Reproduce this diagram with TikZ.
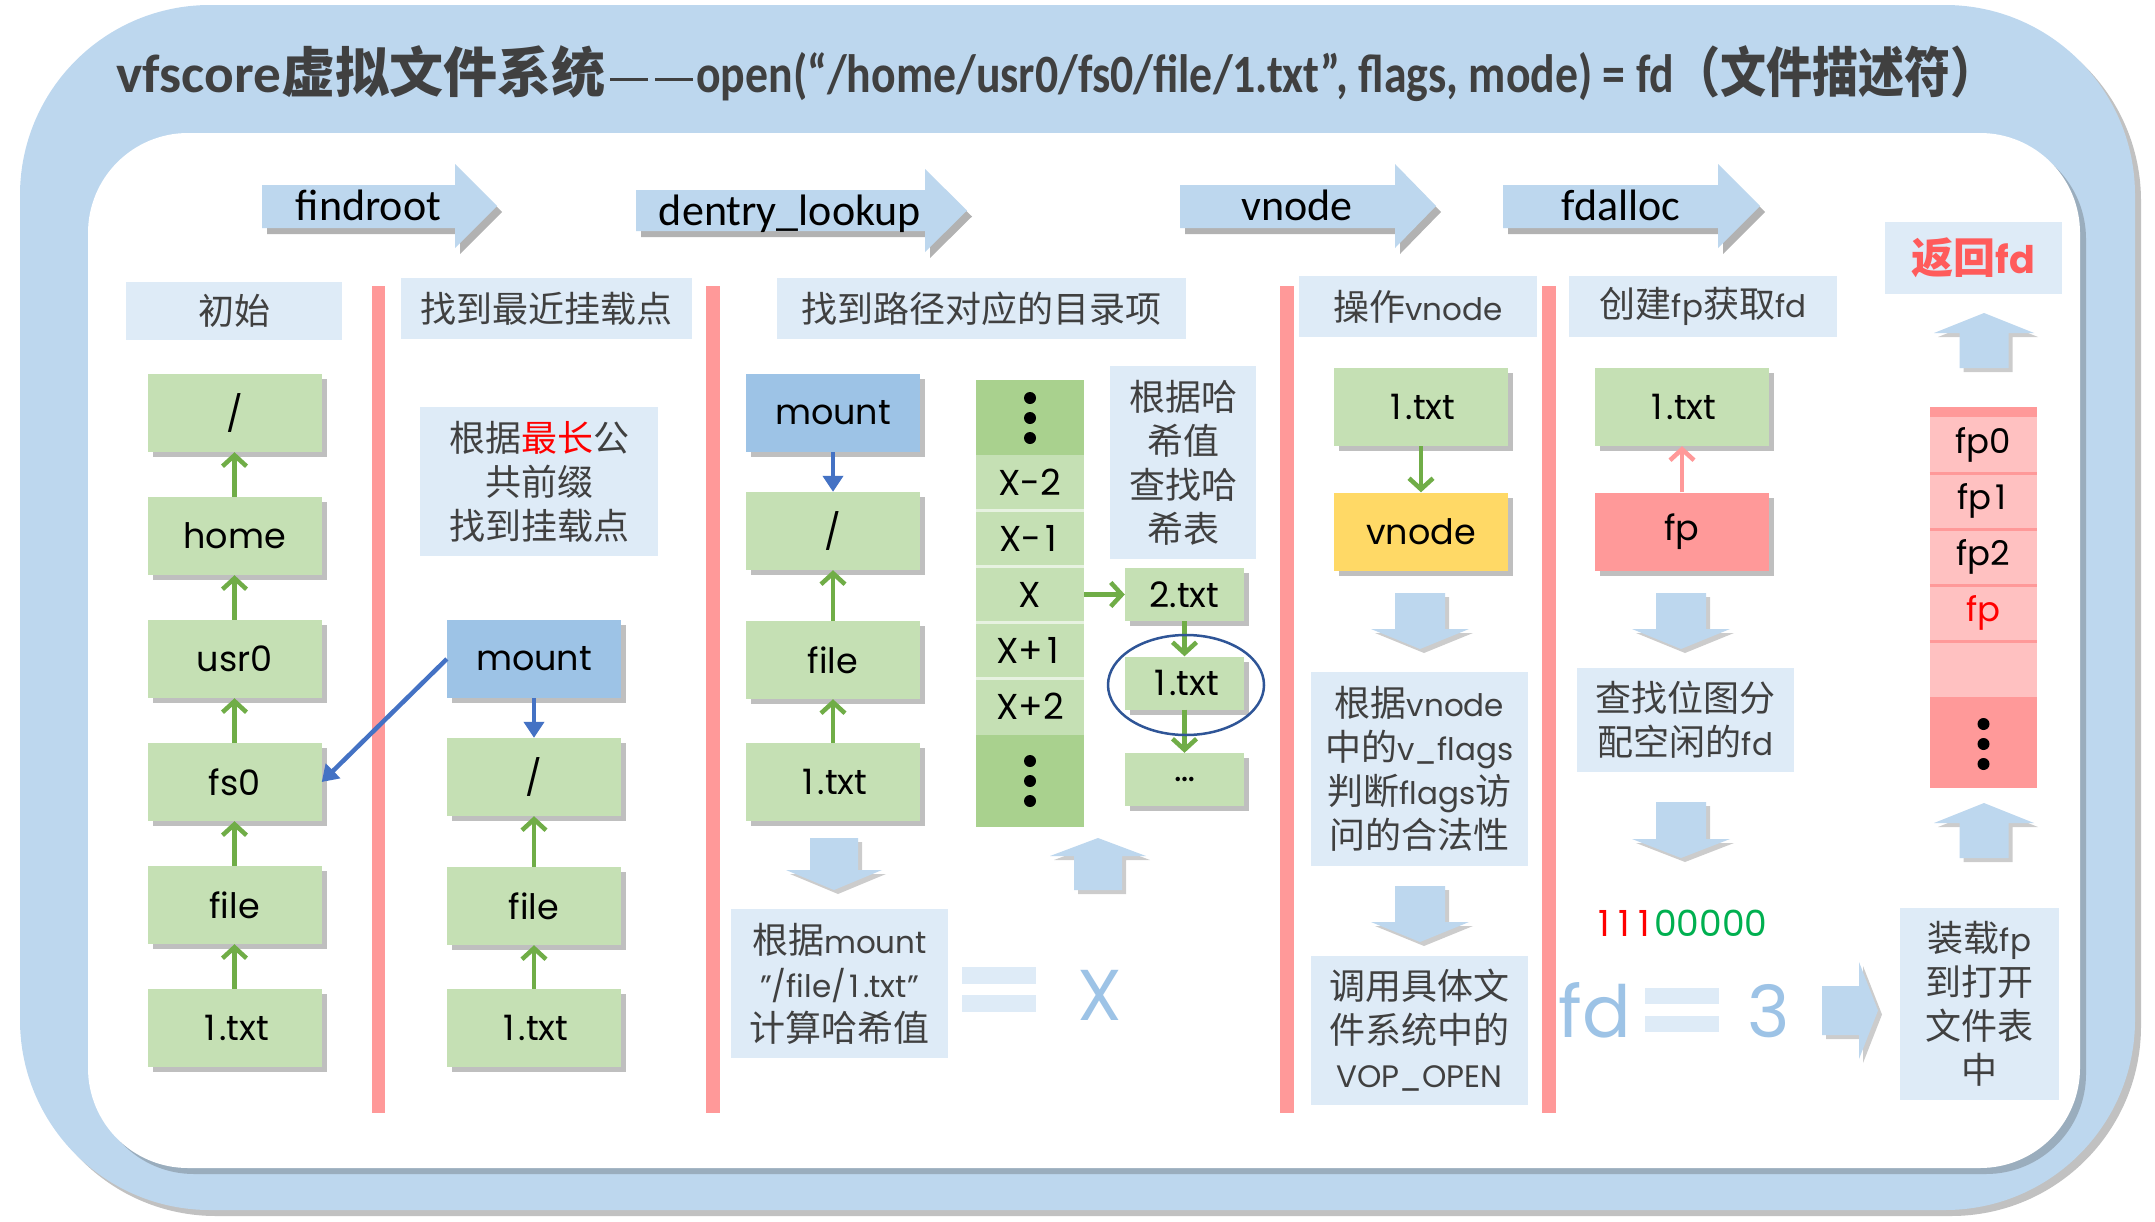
\documentclass[tikz,border=0pt]{standalone}
\usepackage{fontspec}
\usepackage{graphicx}
\setmainfont{Poppins}
\newfontfamily\cjkf{Noto Sans CJK SC}
\newfontfamily\calfont{Carlito}
\usetikzlibrary{arrows.meta,shadows}
\definecolor{outerblue}{HTML}{BDD7EE}
\definecolor{hdrblue}{HTML}{DEEBF7}
\definecolor{gbox}{HTML}{C5E0B4}
\definecolor{gdark}{HTML}{A9D18E}
\definecolor{mblue}{HTML}{9DC3E6}
\definecolor{vyellow}{HTML}{FFD966}
\definecolor{fpred}{HTML}{FF9999}
\definecolor{fplight}{HTML}{FFC1C1}
\definecolor{garrow}{HTML}{70AD47}
\definecolor{barrow}{HTML}{4472C4}
\definecolor{ellblue}{HTML}{2F5597}
\definecolor{txtgray}{HTML}{404040}
\definecolor{bitgreen}{HTML}{00B050}
\definecolor{titlered}{HTML}{FF5B5B}
\newcommand\latp[1]{{\rmfamily\fontsize{31}{44}\selectfont #1}}
\newcommand\one{\makebox[0.55em]{1}}
\newcommand\bdown[6]{\fill[blk] (#1-#3,#2) -- (#1+#3,#2) -- (#1+#3,#4) -- (#1+#5,#4) -- (#1,#6) -- (#1-#5,#4) -- (#1-#3,#4) -- cycle;}
\newcommand\bup[6]{\fill[blk] (#1,#2) -- (#1+#4,#3) -- (#1+#5,#3) -- (#1+#5,#6) -- (#1-#5,#6) -- (#1-#5,#3) -- (#1-#4,#3) -- cycle;}
\newcommand\steparrow[7]{\fill[steparr] (#1,#3) -- (#2,#3) -- (#2,#5) -- (#7,{(#5+#6)/2}) -- (#2,#6) -- (#2,#4) -- (#1,#4) -- cycle;}
\tikzset{
 shd/.style={drop shadow={shadow xshift=5pt,shadow yshift=-5pt,opacity=0.25,fill=black}},
 nbox/.style={inner sep=0pt, minimum width=174pt, minimum height=78pt, shd, font=\rmfamily\fontsize{35}{40}\selectfont, text=black},
 gnode/.style={nbox, fill=gbox},
 bnode/.style={nbox, fill=mblue},
 ynode/.style={nbox, fill=vyellow},
 rnode/.style={nbox, fill=fpred},
 snode/.style={gnode, minimum width=119pt, minimum height=53pt},
 hdr/.style={fill=hdrblue, inner sep=0pt, text=txtgray, align=center, font=\cjkf\fontsize{36}{44}\selectfont},
 sepbar/.style={fill=fpred},
 garr/.style={draw=garrow, line width=4.5pt, -{Straight Barb[length=11pt,width=24pt]}},
 parr/.style={garr, draw=fpred},
 barr/.style={draw=barrow, line width=4.5pt, -{Triangle[length=16pt,width=20pt]}},
 blk/.style={fill=outerblue, drop shadow={shadow xshift=4pt,shadow yshift=-4pt,opacity=0.2,fill=black}},
 steparr/.style={fill=outerblue, drop shadow={shadow xshift=5pt,shadow yshift=-6pt,opacity=0.3,fill=black}},
 steptxt/.style={font=\calfont\fontsize{44}{50}\selectfont, text=black, inner sep=0pt},
 hrow/.style={fill=gbox, minimum width=108pt, minimum height=56pt, inner sep=0pt, font=\rmfamily\fontsize{36}{40}\selectfont},
 hdark/.style={hrow, fill=gdark},
 srow/.style={fill=fplight, minimum width=107pt, minimum height=56pt, inner sep=0pt, font=\rmfamily\fontsize{34}{40}\selectfont},
 sdark/.style={srow, fill=fpred},
 rowsep/.style={draw=white, opacity=0.6, line width=3pt},
 srowsep/.style={draw=fpred, line width=3pt},
 ellring/.style={draw=ellblue, line width=2.5pt},
 eqbar/.style={fill=hdrblue},
 bigtxt/.style={font=\rmfamily\fontsize{72}{80}\selectfont, text=mblue, inner sep=0pt},
}
\begin{document}
\begin{tikzpicture}[x=1pt,y=-1pt]
\useasboundingbox (0,0) rectangle (2155,1221);
% frames
\fill[outerblue, rounded corners=190pt, drop shadow={shadow xshift=6pt,shadow yshift=-6pt,opacity=0.35,fill=black!70}] (20,5) rectangle (2135,1210);
\fill[white, rounded corners=100pt, drop shadow={shadow xshift=6pt,shadow yshift=-6pt,opacity=0.3,fill=black!70}] (88,133) rectangle (2080,1168);
% title
\node[anchor=base west, inner sep=0pt, text=txtgray] (title) at (116,92) {\fontsize{54}{60}\selectfont\bfseries\resizebox{165pt}{\height}{\calfont vfscore}{\cjkf 虚拟文件系统}\kern5pt\raisebox{11pt}{\rule{38pt}{3pt}}\kern7pt\raisebox{11pt}{\rule{38pt}{3pt}}\kern3pt\resizebox{978pt}{\height}{\calfont open(“/home/usr0/fs0/file/1.txt”, flags, mode) = fd}\resizebox{322pt}{\height}{\cjkf （文件描述符）}};
% step arrows
\steparrow{262}{455}{185}{228}{164}{248}{497}
\steparrow{636}{925}{190}{231}{169}{252}{967}
\steparrow{1180}{1395}{185}{228}{164}{248}{1436}
\steparrow{1503}{1718}{185}{228}{164}{248}{1760}
\node[steptxt, anchor=base] (s1) at (368.5,220) {findroot};
\node[steptxt, anchor=base] (s2) at (790,225) {dentry\_lookup};
\node[steptxt, anchor=base] (s3) at (1297,220) {vnode};
\node[steptxt, anchor=base] (s4) at (1621,220) {fdalloc};
% separators
\fill[sepbar] (372,286) rectangle (385,1113);
\fill[sepbar] (706,286) rectangle (720,1113);
\fill[sepbar] (1280,286) rectangle (1294,1113);
\fill[sepbar] (1542,286) rectangle (1556,1113);
% headers
\node[hdr, minimum width=216pt, minimum height=58pt] (h1) at (234,311) {初始};
\node[hdr, minimum width=291pt, minimum height=61pt] (h2) at (546.5,308.5) {找到最近挂载点};
\node[hdr, minimum width=409pt, minimum height=61pt] (h3) at (981.5,308.5) {找到路径对应的目录项};
\node[hdr, minimum width=238pt, minimum height=61pt] (h4) at (1418,306.5) {操作\latp{vnode}};
\node[hdr, minimum width=268pt, minimum height=61pt] (h5) at (1703,306.5) {创建\latp{fp}获取\latp{fd}};
\node[hdr, minimum width=177pt, minimum height=72pt, text=titlered] (h6) at (1973.5,258) {{\bfseries\fontsize{42}{48}\selectfont 返回}{\rmfamily\bfseries\fontsize{38}{48}\selectfont fd}};
% column 1
\node[gnode] (a1) at (234.5,413) {/};
\node[gnode] (a2) at (234.5,536) {home};
\node[gnode] (a3) at (234.5,659) {usr0};
\node[gnode] (a4) at (234.5,782) {fs0};
\node[gnode] (a5) at (234.5,905) {file};
\node[gnode] (a6) at (234.5,1028) {\one.txt};
\foreach \lo/\up in {a2/a1,a3/a2,a4/a3,a5/a4,a6/a5} \draw[garr] (\lo.north) -- (\up.south);
% column 2
\node[hdr, minimum width=238pt, minimum height=149pt] (t2) at (539,481.5) {根据\textcolor{red}{最长}公\\共前缀\\找到挂载点};
\node[bnode] (b1) at (534,659) {mount};
\node[gnode] (b2) at (534,777) {/};
\node[gnode] (b3) at (534,906) {file};
\node[gnode] (b4) at (534,1028) {\one.txt};
\draw[barr] (b1.south) -- (b2.north);
\draw[garr] (b3.north) -- (b2.south);
\draw[garr] (b4.north) -- (b3.south);
\draw[barr] (b1.west) -- (a4.east);
% column 3
\node[bnode] (c1) at (833,413) {mount};
\node[gnode] (c2) at (833,531) {/};
\node[gnode] (c3) at (833,660) {file};
\node[gnode] (c4) at (833,782) {\one.txt};
\draw[barr] (c1.south) -- (c2.north);
\draw[garr] (c3.north) -- (c2.south);
\draw[garr] (c4.north) -- (c3.south);
\node[hdark, minimum height=75pt] (ht) at (1030,417.5) {};
\node[hrow] (hm2) at (1030,482.5) {X-2};
\node[hrow] (hm1) at (1030,538.5) {X-\one};
\node[hrow] (hx) at (1030,594.5) {X};
\node[hrow] (hp1) at (1030,650.5) {X+\one};
\node[hrow] (hp2) at (1030,706.5) {X+2};
\node[hdark, minimum height=92pt] (hb) at (1030,780.5) {};
\foreach \r in {hm2,hm1,hx,hp1} \draw[rowsep] (\r.south west) -- (\r.south east);
\foreach \yy in {398,418,438} \fill (1030,\yy) circle (6pt);
\foreach \yy in {761,781,801} \fill (1030,\yy) circle (6pt);
\node[hdr, minimum width=146pt, minimum height=193pt] (t3a) at (1183,462.5) {根据哈\\希值\\查找哈\\希表};
\node[snode] (c5) at (1184.5,594.5) {2.txt};
\node[snode] (c6) at (1184.5,683) {\one.txt};
\node[snode] (c7) at (1184.5,779.5) {\fontsize{36}{40}\selectfont …};
\draw[garr] (hx.east) -- (c5.west);
\draw[garr] (c5.south) -- (c6.north);
\draw[garr] (c6.south) -- (c7.north);
\draw[ellring] (1186,685) ellipse [x radius=78pt, y radius=50pt];
\bdown{834}{838}{24}{870}{48}{890}
\bup{1098}{838}{856}{48}{24}{890}
\node[hdr, minimum width=217pt, minimum height=149pt] (t3b) at (839.5,983.5) {根据\latp{mount}\\\latp{”/file/\one.txt”}\\计算哈希值};
\fill[eqbar] (962,967) rectangle (1036,984);
\fill[eqbar] (962,995) rectangle (1036,1012);
\node[bigtxt] (xv) at (1100,995) {X};
% column 4
\node[gnode] (d1) at (1421,407) {\one.txt};
\node[ynode] (d2) at (1421,531.5) {vnode};
\draw[garr] (d1.south) -- (d2.north);
\bdown{1420}{593}{25}{629}{49}{649}
\node[hdr, minimum width=217pt, minimum height=194pt] (t4a) at (1419.5,769) {根据\latp{vnode}\\中的\latp{v\_flags}\\判断\latp{flags}访\\问的合法性};
\bdown{1420}{886}{25}{922}{49}{942}
\node[hdr, minimum width=217pt, minimum height=149pt] (t4b) at (1419.5,1030.5) {调用具体文\\件系统中的\\\latp{VOP\_OPEN}};
% column 5
\node[gnode] (e1) at (1682,407) {\one.txt};
\node[rnode] (e2) at (1682,531.5) {fp};
\draw[parr] (e2.north) -- (e1.south);
\bdown{1681}{593}{25}{629}{49}{649}
\node[hdr, minimum width=217pt, minimum height=104pt] (t5a) at (1685.5,720) {查找位图分\\配空闲的\latp{fd}};
\bdown{1681}{802}{25}{839}{49}{858}
\node[inner sep=0pt, font=\rmfamily\fontsize{36}{44}\selectfont] (bits) at (1681,923) {\textcolor{red}{\one\one\one}\textcolor{bitgreen}{00000}};
\node[bigtxt] (fdv) at (1595,1010) {fd};
\fill[eqbar] (1645,988) rectangle (1719,1004);
\fill[eqbar] (1645,1016) rectangle (1719,1032);
\node[bigtxt] (three) at (1769,1011) {3};
\fill[blk] (1822,986) -- (1859,986) -- (1859,962) -- (1878,1010.5) -- (1859,1059) -- (1859,1035) -- (1822,1035) -- cycle;
% column 6
\bup{1984}{313}{333}{50}{24.5}{368}
\node[sdark, minimum height=10pt] (st) at (1983.5,412) {};
\node[srow] (r0) at (1983.5,445) {fp0};
\node[srow] (r1) at (1983.5,501) {fp\one};
\node[srow] (r2) at (1983.5,557) {fp2};
\node[srow, text=red] (r3) at (1983.5,613) {fp};
\node[srow] (r4) at (1983.5,669) {};
\node[sdark, minimum height=91pt] (r5) at (1983.5,742.5) {};
\foreach \r in {r0,r1,r2,r3} \draw[srowsep] (\r.south west) -- (\r.south east);
\foreach \yy in {724,744,764} \fill (1983.5,\yy) circle (6pt);
\bup{1984}{803}{823}{50}{24.5}{858}
\node[hdr, minimum width=159pt, minimum height=192pt] (t6) at (1979.5,1004) {装载\latp{fp}\\到打开\\文件表\\中};
\end{tikzpicture}
\end{document}
